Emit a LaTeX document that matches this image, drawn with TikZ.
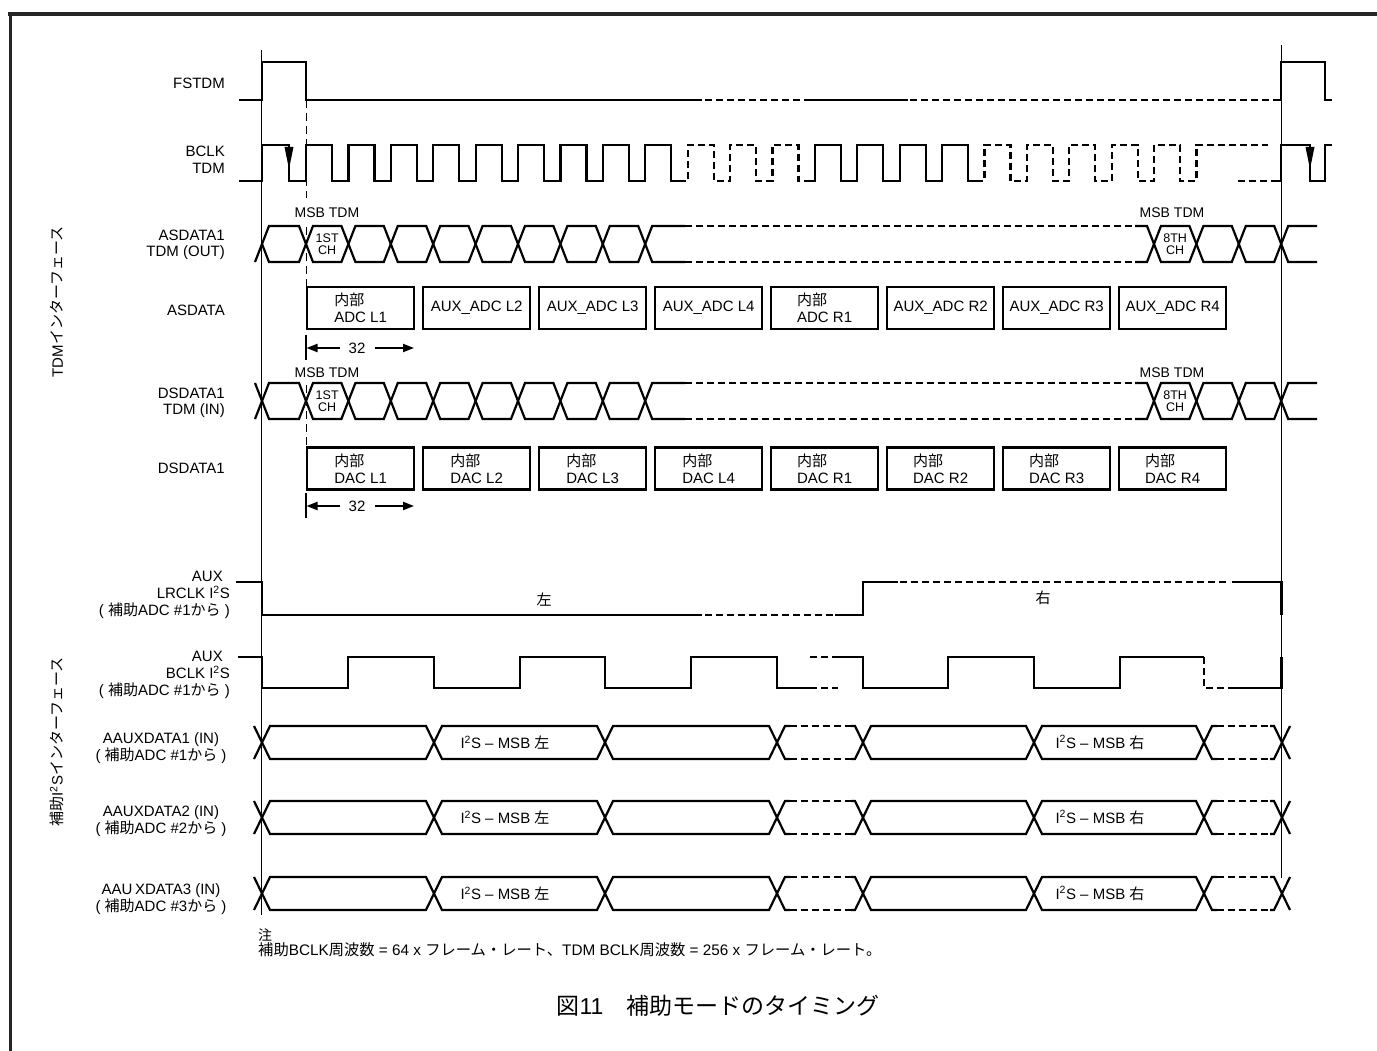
\documentclass[tikz,border=0pt]{standalone}
\usepackage{fontspec}
\setmainfont{Liberation Sans}
\newfontfamily\jpf{Noto Sans CJK JP}
\newcommand\J[1]{{\jpf #1}}
\usetikzlibrary{arrows.meta}
\tikzset{
  sig/.style={line width=2.2pt, line join=miter, line cap=butt},
  dsig/.style={sig, dash pattern=on 7pt off 4pt},
  vdash/.style={line width=1pt, dash pattern=on 8pt off 5pt},
  thin frame/.style={line width=1pt},
  lab/.style={font=\fontsize{15}{16.5}\selectfont, inner sep=0pt},
  msb/.style={font=\fontsize{14}{16}\selectfont, inner sep=0pt},
  chl/.style={font=\fontsize{12.5}{12.5}\selectfont, inner sep=0pt, align=center},
  dbox/.style={draw, line width=2.2pt, minimum width=107pt, minimum height=42pt, inner sep=0pt, align=left, anchor=west, font=\fontsize{15}{17}\selectfont},
  arr32/.style={line width=2pt, -{Triangle[length=11pt,width=8pt]}},
}
\newcommand\tdmrow[2]{%
  \pgfmathsetmacro\midy{(#1+#2)/2}%
  \foreach \a/\b in {262/306,306/348.4,348.4/390.8,390.8/433.2,433.2/475.6,475.6/518,518/560.4,560.4/602.8,602.8/645.2,1154/1196.4,1196.4/1238.8,1238.8/1281.2}{%
    \draw[sig] (\a,\midy) -- ({\a+7},#1) -- ({\b-7},#1) -- (\b,\midy) -- ({\b-7},#2) -- ({\a+7},#2) -- cycle;}%
  \draw[sig] (685,#1) -- (652.2,#1) -- (645.2,\midy) -- (652.2,#2) -- (685,#2);
  \draw[dsig] (685,#1) -- (1135,#1);
  \draw[dsig] (685,#2) -- (1135,#2);
  \draw[sig] (1135,#1) -- (1147,#1) -- (1154,\midy) -- (1147,#2) -- (1135,#2);
  \draw[sig] (1317,#1) -- (1288.2,#1) -- (1281.2,\midy) -- (1288.2,#2) -- (1317,#2);
}
\newcommand\auxrow[2]{%
  \pgfmathsetmacro\midy{(#1+#2)/2}%
  \foreach \a/\b in {262/434,434/605,605/777,863/1034,1034/1204}{%
    \draw[sig] (\a,\midy) -- ({\a+8},#1) -- ({\b-8},#1) -- (\b,\midy) -- ({\b-8},#2) -- ({\a+8},#2) -- cycle;}%
  \draw[sig] (254,#1) -- (262,\midy) -- (254,#2);
  \draw[sig] (790,#1) -- (785,#1) -- (777,\midy) -- (785,#2) -- (790,#2);
  \draw[dsig] (790,#1) -- (851,#1);
  \draw[dsig] (790,#2) -- (851,#2);
  \draw[sig] (851,#1) -- (855,#1) -- (863,\midy) -- (855,#2) -- (851,#2);
  \draw[sig] (1217,#1) -- (1212,#1) -- (1204,\midy) -- (1212,#2) -- (1217,#2);
  \draw[dsig] (1217,#1) -- (1270,#1);
  \draw[dsig] (1217,#2) -- (1270,#2);
  \draw[sig] (1270,#1) -- (1274,#1) -- (1282,\midy) -- (1274,#2) -- (1270,#2);
  \draw[sig] (1290,#1) -- (1282,\midy) -- (1290,#2);
}
\begin{document}
\begin{tikzpicture}[x=1pt,y=-1pt]
\useasboundingbox (0,0) rectangle (1377,1051);
\fill[white] (0,0) rectangle (1377,1051);
% outer border
\draw[line width=4pt, black!85] (8,14) -- (1377,14);
\draw[line width=3pt, black!85] (10,12) -- (10,1051);
% frame lines
\draw[thin frame] (261,50) -- (261,915);
\draw[thin frame] (1281.5,45) -- (1281.5,878);

% side labels
\node[lab, rotate=90] (tdmif) at (57,302) {TDM\J{インターフェース}};
\node[lab, rotate=90] (auxif) at (57,742) {\J{補助}I\textsuperscript{2}S\J{インターフェース}};

% signal labels
\node[lab, anchor=east] (lfs) at (225,83) {FSTDM};
\node[lab, anchor=east, align=right] (lbclk) at (225,160) {BCLK\\TDM};
\node[lab, anchor=east, align=right] (las1) at (225,245) {ASDATA1\\TDM (OUT)};
\node[lab, anchor=east] (las) at (225,310) {ASDATA};
\node[lab, anchor=east, align=right] (lds1) at (225,403) {DSDATA1\\TDM (IN)};
\node[lab, anchor=east] (lds) at (225,468) {DSDATA1};
\node[lab, anchor=east, align=right, font=\fontsize{15}{17}\selectfont] (llr) at (230,595) {AUX\hspace*{7pt}\\LRCLK I\textsuperscript{2}S\hspace*{6pt}\\( \J{補助}ADC \#1\J{から} )};
\node[lab, anchor=east, align=right, font=\fontsize{15}{17}\selectfont] (lab2) at (230,675) {AUX\hspace*{7pt}\\BCLK I\textsuperscript{2}S\hspace*{6pt}\\( \J{補助}ADC \#1\J{から} )};
\node[lab, align=center] (lx1) at (161,748) {AAUXDATA1 (IN)\\( \J{補助}ADC \#1\J{から} )};
\node[lab, align=center] (lx2) at (161,821) {AAUXDATA2 (IN)\\( \J{補助}ADC \#2\J{から} )};
\node[lab, align=center] (lx3) at (161,899) {AAU\,XDATA3 (IN)\\( \J{補助}ADC \#3\J{から} )};

% FSTDM
\draw[sig] (239,100) -- (262,100) -- (262,62) -- (306,62) -- (306,100) -- (702,100);
\draw[dsig] (705,100) -- (806,100);
\draw[sig] (806,100) -- (908,100);
\draw[dsig] (910,100) -- (1281.2,100);
\draw[sig] (1278,100) -- (1281.2,100) -- (1281.2,62) -- (1325,62) -- (1325,100) -- (1332,100);

% BCLK TDM
\draw[sig] (239,181) -- (262,181) -- (262,145) -- (289,145) -- (289,181) -- (306,181)
  foreach \r in {306,348.4,390.8,433.2,475.6,518,560.4,602.8,645.2} { -- (\r,181) -- (\r,145) -- ({\r+26},145) -- ({\r+26},181) } -- (679,181);
\draw[dsig] (679,181)
  foreach \r in {687.6,730,772.4} { -- (\r,181) -- (\r,145) -- ({\r+26},145) -- ({\r+26},181) } -- (806,181);
\draw[sig] (806,181)
  foreach \r in {814.8,857.2,899.6,942} { -- (\r,181) -- (\r,145) -- ({\r+26},145) -- ({\r+26},181) } -- (976,181);
\draw[dsig] (976,181)
  foreach \r in {984.4,1026.8,1069.2,1111.6,1154} { -- (\r,181) -- (\r,145) -- ({\r+26},145) -- ({\r+26},181) } -- (1196.4,181) -- (1196.4,145) -- (1268,145);
\draw[dsig] (1238,181) -- (1274,181);
\draw[sig] (1274,181) -- (1281.2,181) -- (1281.2,145) -- (1310,145) -- (1310,181) -- (1325,181) -- (1325,145) -- (1332,145);
\fill (284.5,147) -- (293.5,147) -- (289,169) -- cycle;
\fill (1305.5,147) -- (1314.5,147) -- (1310,169) -- cycle;

% dashed MSB marker
\draw[vdash] (306,100) -- (306,198);
\draw[vdash] (306,227) -- (306,287);
\draw[vdash] (306,385) -- (306,447);

% ASDATA1 TDM (OUT)
\node[msb] (m1) at (327,213) {MSB TDM};
\node[msb] (m2) at (1172,213) {MSB TDM};
\tdmrow{226}{262}
\draw[sig] (255,262) -- (262,244);
\node[chl] (c1) at (327.2,244) {1ST\\CH};
\node[chl] (c2) at (1175.2,244) {8TH\\CH};

% ASDATA boxes
\node[dbox] (a1) at (306,308) {\J{内部}\\ADC L1};
\node[dbox] (a2) at (422,308) {AUX\_ADC L2};
\node[dbox] (a3) at (538,308) {AUX\_ADC L3};
\node[dbox] (a4) at (654,308) {AUX\_ADC L4};
\node[dbox] (a5) at (770,308) {\J{内部}\\ADC R1};
\node[dbox] (a6) at (886,308) {AUX\_ADC R2};
\node[dbox] (a7) at (1002,308) {AUX\_ADC R3};
\node[dbox] (a8) at (1118,308) {AUX\_ADC R4};

% 32 arrow (ASDATA)
\node[lab] (n32a) at (357,348) {32};
\coordinate (t32al) at (306.5,348);
\coordinate (t32ar) at (414,348);
\draw[line width=2pt] (306,335) -- (306,360);
\draw[arr32] ([xshift=-8pt]n32a.west) -- (t32al);
\draw[arr32] ([xshift=9pt]n32a.east) -- (t32ar);

% DSDATA1 TDM (IN)
\node[msb] (m3) at (327,373) {MSB TDM};
\node[msb] (m4) at (1172,373) {MSB TDM};
\tdmrow{383}{419}
\draw[sig] (255,383) -- (262,401) -- (255,419);
\node[chl] (c3) at (327.2,401) {1ST\\CH};
\node[chl] (c4) at (1175.2,401) {8TH\\CH};

% DSDATA1 boxes
\node[dbox] (d1) at (306,468.5) {\J{内部}\\DAC L1};
\node[dbox] (d2) at (422,468.5) {\J{内部}\\DAC L2};
\node[dbox] (d3) at (538,468.5) {\J{内部}\\DAC L3};
\node[dbox] (d4) at (654,468.5) {\J{内部}\\DAC L4};
\node[dbox] (d5) at (770,468.5) {\J{内部}\\DAC R1};
\node[dbox] (d6) at (886,468.5) {\J{内部}\\DAC R2};
\node[dbox] (d7) at (1002,468.5) {\J{内部}\\DAC R3};
\node[dbox] (d8) at (1118,468.5) {\J{内部}\\DAC R4};

% 32 arrow (DSDATA)
\node[lab] (n32d) at (357,506) {32};
\coordinate (t32dl) at (306.5,506);
\coordinate (t32dr) at (414,506);
\draw[line width=2pt] (306,493) -- (306,518);
\draw[arr32] ([xshift=-8pt]n32d.west) -- (t32dl);
\draw[arr32] ([xshift=9pt]n32d.east) -- (t32dr);

% AUX LRCLK
\draw[sig] (236,582) -- (262,582) -- (262,615) -- (702,615);
\draw[dsig] (705,615) -- (834,615);
\draw[sig] (835,615) -- (863,615) -- (863,582) -- (898,582);
\draw[dsig] (900,582) -- (1230,582);
\draw[sig] (1232,582) -- (1281.5,582) -- (1281.5,615);
\node[lab] (left) at (544,600) {\J{左}};
\node[lab] (right) at (1043,598) {\J{右}};

% AUX BCLK
\draw[sig] (238,657) -- (262,657) -- (262,688) -- (348,688) -- (348,657) -- (434,657) -- (434,688) -- (520,688) -- (520,657) -- (605,657) -- (605,688) -- (691,688) -- (691,657) -- (777,657) -- (777,688) -- (810,688);
\draw[dsig] (810,688) -- (838,688);
\draw[dsig] (810,657) -- (836,657);
\draw[sig] (836,657) -- (863,657) -- (863,688) -- (948,688) -- (948,657) -- (1034,657) -- (1034,688) -- (1120,688) -- (1120,657) -- (1204,657);
\draw[dsig] (1204,657) -- (1204,688) -- (1231,688);
\draw[sig] (1231,688) -- (1281.5,688) -- (1281.5,657);

% AAUXDATA rows
\auxrow{726}{759}
\node[lab] (x1l) at (505,742.5) {I\textsuperscript{2}S – MSB \J{左}};
\node[lab] (x1r) at (1100,742.5) {I\textsuperscript{2}S – MSB \J{右}};
\auxrow{801}{834}
\node[lab] (x2l) at (505,817.5) {I\textsuperscript{2}S – MSB \J{左}};
\node[lab] (x2r) at (1100,817.5) {I\textsuperscript{2}S – MSB \J{右}};
\auxrow{877}{910}
\node[lab] (x3l) at (505,893.5) {I\textsuperscript{2}S – MSB \J{左}};
\node[lab] (x3r) at (1100,893.5) {I\textsuperscript{2}S – MSB \J{右}};

% notes and caption
\node[anchor=west, inner sep=0pt, font=\fontsize{14}{15}\selectfont] (note1) at (258,935) {\J{注}};
\node[anchor=west, inner sep=0pt, font=\fontsize{15.3}{16}\selectfont] (note2) at (258,950) {\J{補助}BCLK\J{周波数} = 64 x \J{フレーム・レート、}TDM BCLK\J{周波数} = 256 x \J{フレーム・レート。}};
\node[inner sep=0pt, font=\fontsize{23}{25}\selectfont] (cap) at (718,1006) {\J{図}11\J{　補助モードのタイミング}};
\end{tikzpicture}
\end{document}
